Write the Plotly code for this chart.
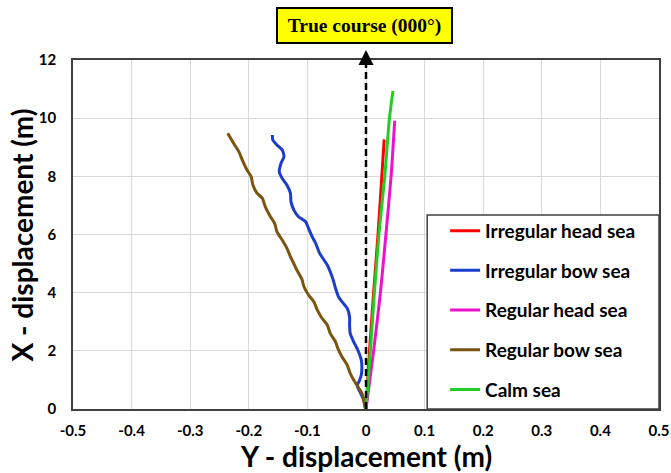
import plotly.graph_objects as go

# Track of the ship: lateral (Y) vs. forward (X) displacement, metres
irr_head_y = [0.0, 0.006, 0.013, 0.0205, 0.027, 0.031]
irr_head_x = [0.0, 2.0, 4.0, 6.0, 8.0, 9.27]

irr_bow_y = [0.0, -0.004, -0.009, -0.015, -0.012, -0.008, -0.007, -0.008, -0.014, -0.021,
             -0.027, -0.028, -0.028, -0.032, -0.041, -0.047, -0.052, -0.056, -0.061, -0.066,
             -0.079, -0.086, -0.092, -0.098, -0.103, -0.115, -0.123, -0.128, -0.129, -0.135,
             -0.143, -0.148, -0.145, -0.140, -0.143, -0.152, -0.159, -0.160]
irr_bow_x = [0.0, 0.31, 0.54, 0.80, 0.94, 1.17, 1.45, 1.68, 2.03, 2.31,
             2.60, 2.89, 3.17, 3.46, 3.69, 3.86, 4.15, 4.44, 4.72, 4.95,
             5.35, 5.70, 5.93, 6.21, 6.44, 6.61, 6.84, 7.13, 7.42, 7.70,
             7.93, 8.16, 8.45, 8.68, 8.91, 9.08, 9.25, 9.42]

reg_head_y = [0.0, 0.013, 0.0246, 0.034, 0.0428, 0.049]
reg_head_x = [0.0, 2.0, 4.0, 6.0, 8.0, 9.91]

reg_bow_y = [0.0, -0.002, -0.004, -0.007, -0.012, -0.021, -0.027, -0.032, -0.041, -0.047,
             -0.052, -0.061, -0.066, -0.075, -0.083, -0.089, -0.098, -0.106, -0.109, -0.118,
             -0.122, -0.129, -0.135, -0.143, -0.152, -0.156, -0.163, -0.172, -0.177, -0.186,
             -0.193, -0.196, -0.203, -0.211, -0.217, -0.226, -0.236]
reg_bow_x = [0.0, 0.08, 0.31, 0.54, 0.71, 1.00, 1.23, 1.51, 1.80, 2.03,
             2.31, 2.60, 2.89, 3.12, 3.40, 3.69, 3.92, 4.21, 4.44, 4.78,
             4.95, 5.24, 5.53, 5.81, 6.10, 6.39, 6.61, 6.96, 7.25, 7.42,
             7.70, 7.99, 8.22, 8.56, 8.85, 9.14, 9.48]

calm_y = [0.0, 0.0075, 0.0143, 0.022, 0.032, 0.040, 0.046]
calm_x = [0.0, 2.0, 4.0, 6.0, 8.0, 10.0, 10.94]

series = [
    ("Irregular head sea", irr_head_y, irr_head_x, "#FF0000"),
    ("Irregular bow sea", irr_bow_y, irr_bow_x, "#1C3CCC"),
    ("Regular head sea", reg_head_y, reg_head_x, "#EE11CC"),
    ("Regular bow sea", reg_bow_y, reg_bow_x, "#7B5410"),
    ("Calm sea", calm_y, calm_x, "#22CC22"),
]

x_ticks = [-0.5, -0.4, -0.3, -0.2, -0.1, 0, 0.1, 0.2, 0.3, 0.4, 0.5]
x_tick_text = ["-0.5", "-0.4", "-0.3", "-0.2", "-0.1", "0", "0.1", "0.2", "0.3", "0.4", "0.5"]
y_ticks = [0, 2, 4, 6, 8, 10, 12]

FONT = "Lato"
fig = go.Figure()
for i, (name, ys, xs, col) in enumerate(series):
    fig.add_trace(go.Scatter(
        x=ys, y=xs, mode="lines", name=name, legendgroup=f"g{i}",
        line=dict(color=col, width=3, shape="spline", smoothing=0.6),
    ))

axis_common = dict(showgrid=True, gridcolor="#D9D9D9", gridwidth=1,
                   showline=True, mirror=True, linecolor="#404040", linewidth=1.5,
                   zeroline=False, ticks="", automargin=False,
                   tickfont=dict(family=FONT, size=15, color="#000000", weight="bold"))

fig.update_xaxes(range=[-0.5, 0.5], tickvals=x_ticks, ticktext=x_tick_text,
                 ticklabelstandoff=7, **axis_common)
fig.update_yaxes(range=[0, 12], tickvals=y_ticks, ticklabelstandoff=12, **axis_common)

# axis titles
fig.add_annotation(xref="paper", yref="paper", x=0.5, y=-0.1347,
                   xanchor="center", yanchor="middle", showarrow=False,
                   text="<b>Y - displacement (m)</b>",
                   font=dict(family=FONT, size=28, color="#000000"))
fig.add_annotation(xref="paper", yref="paper", x=-0.0871, y=0.5,
                   xanchor="center", yanchor="middle", showarrow=False, textangle=-90,
                   text="<b>X - displacement (m)</b>",
                   font=dict(family=FONT, size=28, color="#000000"))

# legend frame
fig.add_shape(type="rect", xref="paper", yref="paper", x0=0.6044, x1=1.0, y0=0.0, y1=0.556,
              line=dict(color="#404040", width=1.5), fillcolor="white", layer="above")

# course line (x = 0 sits at the middle of the symmetric range)
fig.add_shape(type="line", xref="paper", yref="paper", x0=0.5, x1=0.5, y0=0.0, y1=1.02,
              line=dict(color="#000000", width=2.5, dash="7px,4px"), layer="above")
fig.add_annotation(xref="paper", yref="paper", x=0.5, y=1.0287, text="", showarrow=True,
                   ax=0, ay=10, arrowhead=2, arrowsize=1.2, arrowwidth=2.5,
                   arrowcolor="#000000")

fig.add_annotation(xref="paper", yref="paper", x=0.4977, y=1.0989,
                   xanchor="center", yanchor="middle",
                   text="<b>True course (000°)</b>", showarrow=False,
                   font=dict(family="Liberation Serif", size=19.5, color="#000000"),
                   bgcolor="#FFFF00", bordercolor="#000000", borderwidth=2,
                   width=171, height=31)

fig.update_layout(
    width=671, height=473,
    margin=dict(l=73, r=12, t=60, b=64),
    paper_bgcolor="white", plot_bgcolor="white",
    showlegend=True,
    legend=dict(x=0.635, y=0.565, xanchor="left", yanchor="top",
                bgcolor="rgba(0,0,0,0)", borderwidth=0,
                tracegroupgap=12, itemwidth=30,
                font=dict(family=FONT, size=19, color="#000000", weight="bold")),
)

fig.write_html("out.html")
